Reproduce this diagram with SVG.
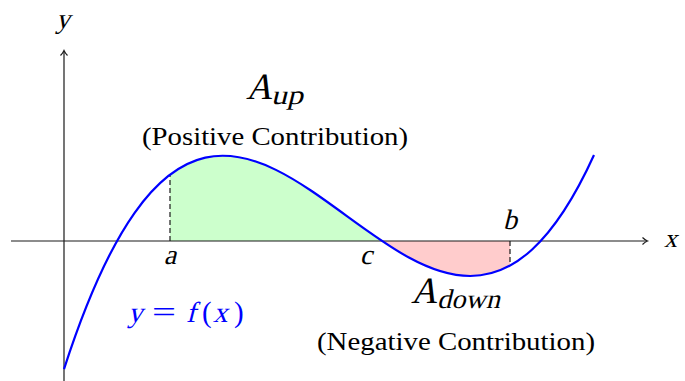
<svg xmlns="http://www.w3.org/2000/svg" width="685" height="381" viewBox="0 0 685 381">
<style>
.ax{stroke:#1a1a1a;stroke-width:1.2;fill:none}
.dash{stroke:#1a1a1a;stroke-width:1.2;stroke-dasharray:5 3;fill:none}
.curve{stroke:#0000ff;stroke-width:2.2;fill:none}
.m{font-family:"Liberation Serif","Times New Roman",serif;font-style:normal;fill:#000}
.t{font-family:"Liberation Serif","Times New Roman",serif;fill:#000}
.blue{fill:#0000ff}
</style>
<defs>
<marker id="arr" markerWidth="10" markerHeight="10" refX="7" refY="5" orient="auto" markerUnits="userSpaceOnUse">
<path d="M2.5,1.5 Q5,4 7.5,5 Q5,6 2.5,8.5" fill="none" stroke="#1a1a1a" stroke-width="1.2"/>
</marker>
</defs>
<g id="areas">
<path id="area-up" d="M170,241 L170,174.61 C240.67,120.87 311.33,193.63 382,241 Z" fill="#ccffcc"/>
<path id="area-down" d="M382,241 C424.67,269.6 467.33,288.95 510,265.62 L510,241 Z" fill="#ffcccc"/>
</g>
<g id="connectors">
<line class="ax" x1="11" y1="241" x2="647" y2="241" marker-end="url(#arr)"/>
<line class="ax" x1="64" y1="381" x2="64" y2="51" marker-end="url(#arr)"/>
<line class="dash" x1="170" y1="241" x2="170" y2="174.6"/>
<line class="dash" x1="510" y1="241" x2="510" y2="265.6"/>
</g>
<g id="curve">
<path class="curve" d="M64,369.07 C240.67,-176.4 417.33,543.3 594,155.08"/>
</g>
<g id="labels">
<g transform="translate(63,28) skewX(-14)"><text class="m" x="0" y="0" font-size="28" text-anchor="middle">y</text></g>
<g transform="translate(664,247) skewX(-14)"><text class="m" x="0" y="0" font-size="26">x</text></g>
<g transform="translate(170,264) skewX(-14)"><text class="m" x="0" y="0" font-size="28" text-anchor="middle">a</text></g>
<g transform="translate(366,264) skewX(-14)"><text class="m" x="0" y="0" font-size="28" text-anchor="middle">c</text></g>
<g transform="translate(510,229) skewX(-14)"><text class="m" x="0" y="0" font-size="28" text-anchor="middle">b</text></g>
<g id="a-up">
<g transform="translate(246,99) skewX(-14)"><text class="m" x="0" y="0" font-size="37" textLength="26" lengthAdjust="spacingAndGlyphs">A</text></g>
<g transform="translate(271,104) skewX(-14)"><text class="m" x="0" y="0" font-size="27" textLength="32" lengthAdjust="spacingAndGlyphs">up</text></g>
</g>
<text class="t" x="142" y="145" font-size="26" textLength="266" lengthAdjust="spacingAndGlyphs">(Positive Contribution)</text>
<g id="a-down">
<g transform="translate(411,303) skewX(-14)"><text class="m" x="0" y="0" font-size="37" textLength="26" lengthAdjust="spacingAndGlyphs">A</text></g>
<g transform="translate(437,308) skewX(-14)"><text class="m" x="0" y="0" font-size="27" textLength="63" lengthAdjust="spacingAndGlyphs">down</text></g>
</g>
<text class="t" x="317" y="350" font-size="26" textLength="278" lengthAdjust="spacingAndGlyphs">(Negative Contribution)</text>
<g id="fx-label" class="blue">
<g transform="translate(128,322) skewX(-14)"><text class="m blue" x="0" y="0" font-size="29">y</text></g>
<text class="t blue" x="152" y="322" font-size="29" textLength="24" lengthAdjust="spacingAndGlyphs">=</text>
<g transform="translate(186,322) skewX(-14)"><text class="m blue" x="0" y="0" font-size="29">f</text></g>
<text class="t blue" x="202" y="322" font-size="29">(</text>
<g transform="translate(213,322) skewX(-14)"><text class="m blue" x="0" y="0" font-size="29">x</text></g>
<text class="t blue" x="234" y="322" font-size="29">)</text>
</g>
</g>
</svg>
